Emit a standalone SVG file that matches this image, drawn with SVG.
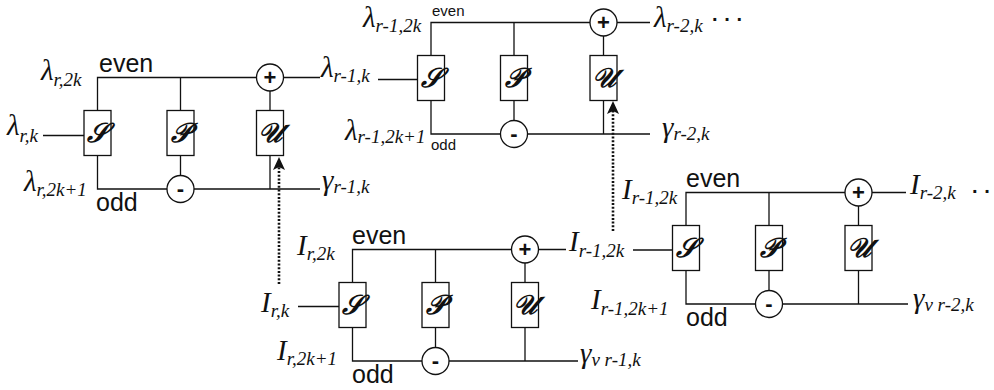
<svg xmlns="http://www.w3.org/2000/svg" width="994" height="390" viewBox="0 0 994 390">
<defs>
<style>
.ln{stroke:#111;stroke-width:1.3;fill:none}
.bx{fill:#fff;stroke:#111;stroke-width:1.3}
.ci{fill:#fff;stroke:#111;stroke-width:1.3}
.dot{stroke:#111;stroke-width:2.6;fill:none;stroke-dasharray:2 1.7}
.op{font-family:"Liberation Sans",Arial,sans-serif;font-size:22px;font-weight:bold;text-anchor:middle;fill:#111}
.sym{font-family:"DejaVu Serif","Liberation Serif",serif;font-size:27px;font-style:italic;font-weight:bold;text-anchor:middle;fill:#111}
.m{font-family:"Liberation Serif","Times New Roman",serif;font-style:italic;font-size:29px;fill:#111}
.s{font-size:19px}
.w{font-family:"Liberation Sans",Arial,sans-serif;font-size:25px;fill:#111}
.ws{font-family:"Liberation Sans",Arial,sans-serif;font-size:15px;fill:#111}
.dd{font-family:"Liberation Sans",Arial,sans-serif;font-size:20px;font-weight:bold;fill:#111}
</style>
<marker id="ah" viewBox="-4 -7 15 14" refX="0" refY="0" markerWidth="15" markerHeight="14" markerUnits="userSpaceOnUse" orient="auto">
<path d="M10,0 L-3,-6 L0,0 L-3,6 Z" fill="#111"/>
</marker>
</defs>
<rect width="994" height="390" fill="#fff"/>

<g id="connectors">
<path class="ln" d="M97.5 110.5 V77.5 H256.5 M283.5 77.5 H320 M97.5 155.5 V189 H167 M194 189 H320 M180.5 77.5 V110.5 M180.5 155.5 V175.5 M270 91 V110.5 M270 155.5 V189 M43 135.5 H84"/>
<path class="ln" d="M431 55.5 V22.5 H590 M617 22.5 H650 M431 100.5 V134 H500.5 M527.5 134 H650 M514 22.5 V55.5 M514 100.5 V120.5 M603.5 36 V55.5 M603.5 100.5 V134 M378 79.5 H417.5"/>
<path class="ln" d="M352.5 282.5 V249.5 H511.5 M538.5 249.5 H566 M352.5 327.5 V361 H422 M449 361 H578 M435.5 249.5 V282.5 M435.5 327.5 V347.5 M525 263 V282.5 M525 327.5 V361 M298 306.5 H339"/>
<path class="ln" d="M686 225.5 V192.5 H845 M872 192.5 H906 M686 270.5 V304 H755.5 M782.5 304 H908 M769 192.5 V225.5 M769 270.5 V290.5 M858.5 206 V225.5 M858.5 270.5 V304 M633 250 H672.5"/>
<path class="dot" d="M279 284 V167" marker-end="url(#ah)"/>
<path class="dot" d="M613 231 V111" marker-end="url(#ah)"/>
</g>

<g id="block1">
<g id="b1-S"><rect class="bx" x="84" y="110.5" width="27" height="45"/><text class="sym" x="97.5" y="142">𝒮</text></g>
<g id="b1-P"><rect class="bx" x="167" y="110.5" width="27" height="45"/><text class="sym" x="180.5" y="142">𝒫</text></g>
<g id="b1-U"><rect class="bx" x="256.5" y="110.5" width="27" height="45"/><text class="sym" x="270" y="142">𝒰</text></g>
<g id="b1-plus"><circle class="ci" cx="270" cy="77.5" r="13.5"/><text class="op" x="270" y="85">+</text></g>
<g id="b1-minus"><circle class="ci" cx="180.5" cy="189" r="13.5"/><text class="op" x="180.5" y="196">-</text></g>
<text class="m" x="41" y="80">λ<tspan class="s" dy="6">r,2k</tspan></text>
<text class="w" x="99" y="72">even</text>
<text class="m" x="7" y="135">λ<tspan class="s" dy="7">r,k</tspan></text>
<text class="m" x="24" y="191">λ<tspan class="s" dy="5">r,2k+1</tspan></text>
<text class="w" x="96" y="211">odd</text>
<text class="m" x="321" y="77">λ<tspan class="s" dy="5">r-1,k</tspan></text>
<text class="m" x="322" y="190">γ<tspan class="s" dy="3">r-1,k</tspan></text>
</g>

<g id="block2">
<g id="b2-S"><rect class="bx" x="417.5" y="55.5" width="27" height="45"/><text class="sym" x="431" y="87">𝒮</text></g>
<g id="b2-P"><rect class="bx" x="500.5" y="55.5" width="27" height="45"/><text class="sym" x="514" y="87">𝒫</text></g>
<g id="b2-U"><rect class="bx" x="590" y="55.5" width="27" height="45"/><text class="sym" x="603.5" y="87">𝒰</text></g>
<g id="b2-plus"><circle class="ci" cx="603.5" cy="22.5" r="13.5"/><text class="op" x="603.5" y="30">+</text></g>
<g id="b2-minus"><circle class="ci" cx="514" cy="134" r="13.5"/><text class="op" x="514" y="141">-</text></g>
<text class="m" x="363" y="27">λ<tspan class="s" dy="5">r-1,2k</tspan></text>
<text class="ws" x="432" y="16">even</text>
<text class="m" x="345" y="140">λ<tspan class="s" dy="3">r-1,2k+1</tspan></text>
<text class="ws" x="431" y="150">odd</text>
<text class="m" x="654" y="27">λ<tspan class="s" dy="5">r-2,k</tspan></text>
<text class="dd" x="712" y="26">· · ·</text>
<text class="m" x="662" y="137">γ<tspan class="s" dy="3">r-2,k</tspan></text>
</g>

<g id="block3">
<g id="b3-S"><rect class="bx" x="339" y="282.5" width="27" height="45"/><text class="sym" x="352.5" y="314">𝒮</text></g>
<g id="b3-P"><rect class="bx" x="422" y="282.5" width="27" height="45"/><text class="sym" x="435.5" y="314">𝒫</text></g>
<g id="b3-U"><rect class="bx" x="511.5" y="282.5" width="27" height="45"/><text class="sym" x="525" y="314">𝒰</text></g>
<g id="b3-plus"><circle class="ci" cx="525" cy="249.5" r="13.5"/><text class="op" x="525" y="257">+</text></g>
<g id="b3-minus"><circle class="ci" cx="435.5" cy="361" r="13.5"/><text class="op" x="435.5" y="368">-</text></g>
<text class="m" x="297" y="255">I<tspan class="s" dy="5">r,2k</tspan></text>
<text class="w" x="352" y="244">even</text>
<text class="m" x="261" y="312">I<tspan class="s" dy="5">r,k</tspan></text>
<text class="m" x="277" y="360">I<tspan class="s" dy="5">r,2k+1</tspan></text>
<text class="w" x="352" y="383">odd</text>
<text class="m" x="569" y="251">I<tspan class="s" dy="6">r-1,2k</tspan></text>
<text class="m" x="580" y="363">γ<tspan class="s" dy="3">v r-1,k</tspan></text>
</g>

<g id="block4">
<g id="b4-S"><rect class="bx" x="672.5" y="225.5" width="27" height="45"/><text class="sym" x="686" y="257">𝒮</text></g>
<g id="b4-P"><rect class="bx" x="755.5" y="225.5" width="27" height="45"/><text class="sym" x="769" y="257">𝒫</text></g>
<g id="b4-U"><rect class="bx" x="845" y="225.5" width="27" height="45"/><text class="sym" x="858.5" y="257">𝒰</text></g>
<g id="b4-plus"><circle class="ci" cx="858.5" cy="192.5" r="13.5"/><text class="op" x="858.5" y="200">+</text></g>
<g id="b4-minus"><circle class="ci" cx="769" cy="304" r="13.5"/><text class="op" x="769" y="311">-</text></g>
<text class="m" x="622" y="199">I<tspan class="s" dy="5">r-1,2k</tspan></text>
<text class="w" x="686" y="187">even</text>
<text class="m" x="591" y="309">I<tspan class="s" dy="6">r-1,2k+1</tspan></text>
<text class="w" x="686" y="326">odd</text>
<text class="m" x="910" y="194">I<tspan class="s" dy="5">r-2,k</tspan></text>
<text class="dd" x="972" y="198">· ·</text>
<text class="m" x="913" y="308">γ<tspan class="s" dy="3">v r-2,k</tspan></text>
</g>
</svg>
